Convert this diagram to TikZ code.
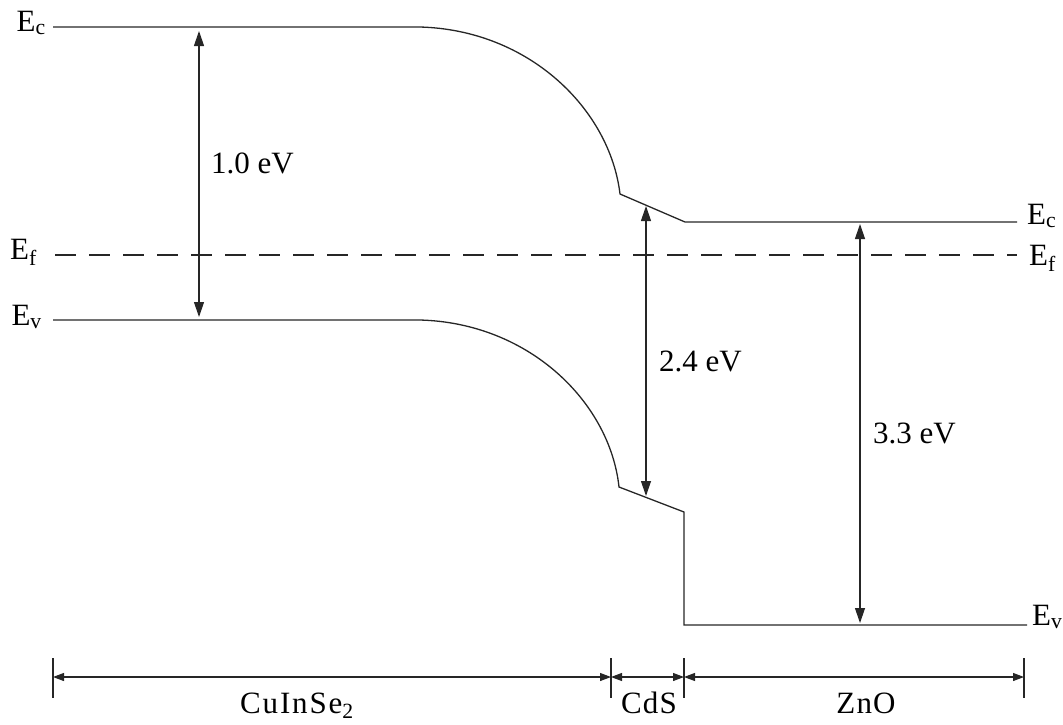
\documentclass[tikz,border=0pt]{standalone}
\usepackage{fontspec}
\setmainfont{Liberation Serif}
\usetikzlibrary{arrows.meta}
\begin{document}
\begin{tikzpicture}[x=1pt,y=-1pt,
  band/.style={line width=1.3pt, black!85},
  fermi/.style={line width=1.3pt, black!85, dash pattern=on 21pt off 13pt},
  gaparrow/.style={line width=1.2pt, black!85, {Triangle[length=15pt,width=10pt]}-{Triangle[length=15pt,width=10pt]}},
  dimarrow/.style={line width=1.1pt, black!85, {Triangle[length=11pt,width=8pt]}-{Triangle[length=11pt,width=8pt]}},
  dimtick/.style={line width=1.1pt, black!85},
  lbl/.style={font=\fontsize{31}{36}\selectfont, inner sep=0pt},
]
\useasboundingbox (0,0) rectangle (1063,724);

% conduction band
\coordinate (cL) at (53,27);
\coordinate (c1) at (420,27);
\coordinate (c2) at (620,194);
\coordinate (c3) at (685,222);
\coordinate (cR) at (1017,222);
\draw[band] (cL) -- (c1) .. controls (530,30) and (610,110) .. (c2) -- (c3) -- (cR);

% Fermi level
\coordinate (fL) at (55,255);
\coordinate (fR) at (1017,255);
\draw[fermi] (fL) -- (fR);

% valence band
\coordinate (vL) at (53,320);
\coordinate (v1) at (420,320);
\coordinate (v2) at (619,487);
\coordinate (v3) at (684,512);
\coordinate (v4) at (684,625);
\coordinate (vR) at (1027,625);
\draw[band] (vL) -- (v1) .. controls (530,323) and (610,403) .. (v2) -- (v3) -- (v4) -- (vR);

% level labels
\node[lbl, anchor=base east] (lEc) at (46,31) {E\textsubscript{c}};
\node[lbl, anchor=base east] (lEf) at (37,259) {E\textsubscript{f}};
\node[lbl, anchor=base east] (lEv) at (42,325) {E\textsubscript{v}};
\node[lbl, anchor=base west] (rEc) at (1027,224) {E\textsubscript{c}};
\node[lbl, anchor=base west] (rEf) at (1029,265) {E\textsubscript{f}};
\node[lbl, anchor=base west] (rEv) at (1032,625) {E\textsubscript{v}};

% band gap arrows
\coordinate (g1t) at (199,31);
\coordinate (g1b) at (199,317);
\coordinate (g2t) at (646,206);
\coordinate (g2b) at (646,496);
\coordinate (g3t) at (860,224);
\coordinate (g3b) at (860,623);
\draw[gaparrow] (g1t) -- (g1b);
\draw[gaparrow] (g2t) -- (g2b);
\draw[gaparrow] (g3t) -- (g3b);
\node[lbl, anchor=base west] (e1) at (211,173) {1.0 eV};
\node[lbl, anchor=base west] (e2) at (659,371) {2.4 eV};
\node[lbl, anchor=base west] (e3) at (873,443) {3.3 eV};

% layer dimensions
\foreach \n/\x in {t1/53, t2/611, t3/684, t4/1024}{
  \coordinate (\n) at (\x,677);
  \coordinate (\n u) at (\x,658);
  \coordinate (\n d) at (\x,698);
  \draw[dimtick] (\n u) -- (\n d);
}
\draw[dimarrow] (t1) -- (t2);
\draw[dimarrow] (t2) -- (t3);
\draw[dimarrow] (t3) -- (t4);
\node[lbl, anchor=base] (m1) at (297,713) {\addfontfeature{LetterSpace=6}CuInSe\textsubscript{2}};
\node[lbl, anchor=base] (m2) at (649,713) {\addfontfeature{LetterSpace=4}CdS};
\node[lbl, anchor=base] (m3) at (866,713) {\addfontfeature{LetterSpace=4}ZnO};
\end{tikzpicture}
\end{document}
